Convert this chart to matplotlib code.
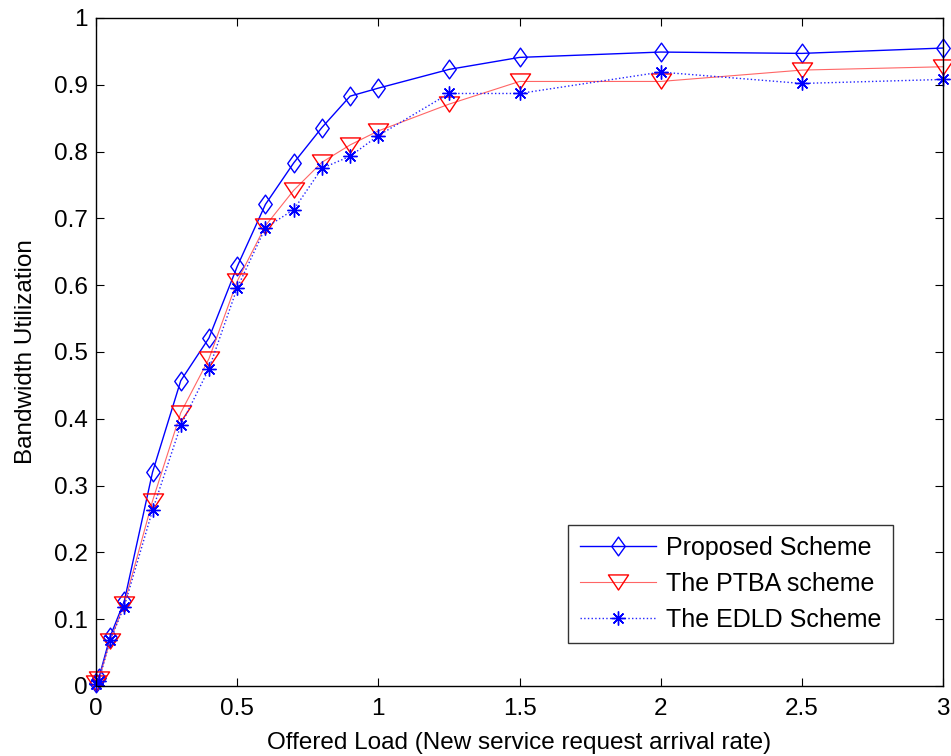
import matplotlib
matplotlib.use('Agg')
import matplotlib.pyplot as plt
from matplotlib.path import Path

# offered load (new service request arrival rate)
load = [0, 0.01, 0.05, 0.1, 0.2, 0.3, 0.4, 0.5, 0.6, 0.7, 0.8, 0.9, 1.0,
        1.25, 1.5, 2.0, 2.5, 3.0]

# bandwidth utilization of each scheme
proposed = [0.005, 0.012, 0.074, 0.127, 0.320, 0.457, 0.521, 0.628, 0.721,
            0.783, 0.836, 0.883, 0.895, 0.923, 0.941, 0.949, 0.947, 0.955]
ptba = [0.004, 0.010, 0.068, 0.123, 0.277, 0.409, 0.490, 0.606, 0.689,
        0.742, 0.784, 0.810, 0.831, 0.871, 0.905, 0.905, 0.922, 0.927]
edld = [0.003, 0.008, 0.069, 0.119, 0.263, 0.390, 0.475, 0.596, 0.686,
        0.713, 0.775, 0.793, 0.824, 0.887, 0.887, 0.919, 0.902, 0.908]

legend_labels = ['Proposed Scheme', 'The PTBA scheme', 'The EDLD Scheme']

plt.rcParams['font.family'] = ['Liberation Sans', 'DejaVu Sans']

# matlab-like markers (narrow diamond, flat down-triangle)
diamond = Path([(0, 1), (0.72, 0), (0, -1), (-0.72, 0), (0, 1)],
               [Path.MOVETO, Path.LINETO, Path.LINETO, Path.LINETO, Path.CLOSEPOLY])
tri_down = Path([(-1, 0.75), (1, 0.75), (0, -0.75), (-1, 0.75)],
                [Path.MOVETO, Path.LINETO, Path.LINETO, Path.CLOSEPOLY])

fig = plt.figure(figsize=(9.51, 7.56), dpi=100)
ax = fig.add_axes([0.101, 0.0926, 0.8906, 0.8836])

ax.plot(load, proposed, color='#0000ff', linestyle='-', linewidth=1.0,
        marker=diamond, markersize=13.5, markerfacecolor='none', markeredgecolor='#0000ff',
        markeredgewidth=1.0, label=legend_labels[0], clip_on=False)
ax.plot(load, ptba, color='#ff6666', linestyle='-', linewidth=0.8,
        marker=tri_down, markersize=14.5, markerfacecolor='none', markeredgecolor='#ff0000',
        markeredgewidth=1.0, label=legend_labels[1], clip_on=False)
ax.plot(load, edld, color='#2222ff', linestyle=':', linewidth=1.0,
        marker=(8, 2, 0), markersize=10, markeredgecolor='#0000ff',
        markeredgewidth=1.0, label=legend_labels[2], clip_on=False)

ax.set_xlim(0, 3)
ax.set_ylim(0, 1)
ax.set_xticks([0, 0.5, 1, 1.5, 2, 2.5, 3])
ax.set_xticklabels(['0', '0.5', '1', '1.5', '2', '2.5', '3'])
ax.set_yticks([i / 10 for i in range(11)])
ax.set_yticklabels(['0', '0.1', '0.2', '0.3', '0.4', '0.5', '0.6', '0.7', '0.8', '0.9', '1'])
ax.tick_params(direction='in', top=True, right=True, length=6, labelsize=17.5)
ax.tick_params(axis='x', pad=9)
ax.tick_params(axis='y', pad=6)
for s in ax.spines.values():
    s.set_linewidth(1.0)

ax.set_xlabel('Offered Load (New service request arrival rate)', fontsize=17.5, labelpad=8)
ax.set_ylabel('Bandwidth Utilization', fontsize=17.5, labelpad=12)

leg = ax.legend(loc='lower right', bbox_to_anchor=(0.941, 0.064), fontsize=18,
                frameon=True, fancybox=False, edgecolor='black',
                handlelength=3.05, handletextpad=0.42, borderpad=0.45, labelspacing=0.48,
                borderaxespad=0)
leg.get_frame().set_linewidth(1.0)

plt.savefig('out.png', dpi=100)
